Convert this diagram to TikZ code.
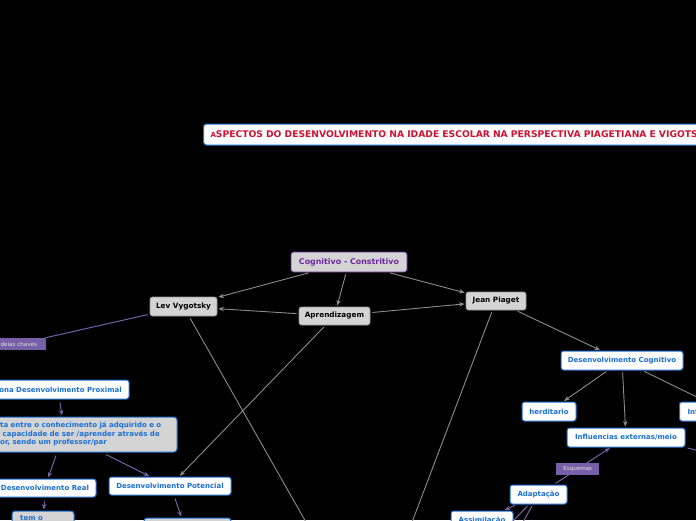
\documentclass[tikz,border=0pt]{standalone}
\usepackage{fontspec}
\setmainfont{DejaVu Sans}
\usetikzlibrary{arrows.meta}
\definecolor{boxgray}{RGB}{212,212,212}
\definecolor{bordgray}{RGB}{150,150,150}
\definecolor{blueb}{RGB}{30,110,205}
\definecolor{bluet}{RGB}{25,110,215}
\definecolor{purp}{RGB}{120,96,168}
\definecolor{purptxt}{RGB}{110,40,160}
\definecolor{linegray}{RGB}{140,140,140}
\definecolor{titlered}{RGB}{205,18,50}
\tikzset{
  boxtext/.style={font=\fontsize{7}{8}\selectfont\bfseries},
  graybox/.style={font=\fontsize{7.3}{8}\selectfont\bfseries, draw=bordgray, fill=boxgray, rounded corners=2.5pt, line width=0.8pt, inner sep=0pt, text=black},
  bluebox/.style={boxtext, draw=blueb, fill=white, rounded corners=2.5pt, line width=1pt, inner sep=0pt, text=bluet},
  bluegray/.style={boxtext, draw=blueb, fill=boxgray, rounded corners=3pt, line width=1pt, inner sep=0pt, text=bluet},
  plabel/.style={font=\fontsize{5.6}{6.5}\selectfont, fill=purp, text=white!88!black, inner sep=0pt, minimum height=12pt},
  garrow/.style={draw=linegray, line width=0.9pt, -{Stealth[length=5.5pt,width=4.5pt]}, shorten <=2pt, shorten >=1pt},
  gline/.style={draw=linegray, line width=0.9pt},
  parrow/.style={draw=purp, line width=1pt, -{Stealth[length=5.5pt,width=4.5pt]}, shorten >=1pt},
  pline/.style={draw=purp, line width=1pt},
}
\begin{document}
\begin{tikzpicture}[x=1pt,y=-1pt]
\useasboundingbox[fill=black] (0,0) rectangle (696,520);

% title
\node[draw=blueb, fill=white, line width=1pt, rounded corners=3pt, anchor=west,
      minimum height=21pt, minimum width=640pt, inner xsep=7pt, text=titlered,
      font=\fontsize{9.2}{10}\selectfont\bfseries, text width=626pt, align=left]
  (title) at (203,134.5) {{\fontsize{7}{7}\selectfont A}SPECTOS DO DESENVOLVIMENTO NA IDADE ESCOLAR NA PERSPECTIVA PIAGETIANA E VIGOTSKIANA};

% main nodes
\node[graybox, font=\fontsize{7.9}{9}\selectfont\bfseries, draw=purptxt, text=purptxt, minimum width=116pt, minimum height=20pt] (cog) at (349,262) {Cognitivo - Constritivo};
\node[graybox, minimum width=67pt, minimum height=19pt] (lev) at (183.5,306.5) {Lev Vygotsky};
\node[graybox, minimum width=71pt, minimum height=18pt] (apr) at (334.5,316) {Aprendizagem};
\node[graybox, minimum width=60pt, minimum height=18pt] (jean) at (496,301) {Jean Piaget};

% Piaget side
\node[bluebox, minimum width=122pt, minimum height=19pt] (dcog) at (622,360.5) {Desenvolvimento Cognitivo};
\node[bluebox, minimum width=54pt, minimum height=19pt] (her) at (549,411.5) {herditario};
\node[bluebox, minimum width=118pt, minimum height=19pt] (infext) at (626,437.5) {Influencias externas/meio};
\node[bluebox, minimum height=19pt, anchor=west, inner xsep=8pt] (infint) at (679,411.5) {Influencias internas};
\node[bluebox, minimum width=57pt, minimum height=19pt] (adap) at (538.5,494.5) {Adaptação};
\node[bluebox, minimum width=62pt, minimum height=19pt] (assim) at (482,520.5) {Assimilação};
\coordinate (acom1) at (490,545);
\coordinate (acom2) at (510,545);

% Vygotsky side
\node[plabel, minimum width=56pt] (ideias) at (18,344) {Ideias chaves};
\node[bluebox, minimum width=142pt, minimum height=19pt] (zona) at (58,389.5) {Zona Desenvolvimento Proximal};
\node[bluegray, minimum width=186pt, minimum height=35pt] (dist) at (84,434.5) {};
\node[text=bluet, anchor=north west, align=left, inner sep=0pt, font=\fontsize{7}{8.2}\selectfont\bfseries] (disttxt) at (0,422) {ta entre o conhecimento já adquirido e o\\ \ capacidade de ser /aprender através de\\or, sendo um professor/par};
\node[bluebox, minimum width=102pt, minimum height=18pt] (dreal) at (45,488) {Desenvolvimento Real};
\node[bluebox, minimum width=122pt, minimum height=18pt] (dpot) at (170,486) {Desenvolvimento Potencial};
\node[bluegray, minimum width=62pt, minimum height=30pt, anchor=north] (temo) at (43,510.5) {};
\node[boxtext, text=bluet, anchor=north west, inner sep=0pt] (temotxt) at (20,515.5) {tem o};
\node[bluegray, minimum width=87pt, minimum height=30pt, anchor=north] (pbox) at (187.5,517.5) {};
\coordinate (levend) at (340,582);
\coordinate (jeanend) at (395,567);

% connectors gray
\draw[garrow] (cog) -- (lev);
\draw[garrow] (cog) -- (apr);
\draw[garrow] (cog) -- (jean);
\draw[garrow] (apr) -- (lev);
\draw[garrow] (apr) -- (jean);
\draw[garrow] (apr) -- (dpot);
\draw[gline, shorten <=2pt] (lev) -- (levend);
\draw[gline, shorten <=2pt] (jean) -- (jeanend);
\draw[garrow] (jean) -- (dcog);
\draw[garrow] (dcog) -- (her);
\draw[garrow] (dcog) -- (infext);
\draw[gline, shorten <=2pt] (dcog) -- (infint);

% connectors purple
\draw[pline, shorten <=2pt] (lev) -- (ideias);
\draw[parrow] ([xshift=2pt,yshift=-3pt]zona.south) -- ([xshift=-22pt]dist.north);
\draw[parrow] ([xshift=-28pt,yshift=-3pt]dist.south) -- ([xshift=3pt]dreal.north);
\draw[parrow] ([xshift=22pt,yshift=-2pt]dist.south) -- ([xshift=-20pt]dpot.north);
\draw[parrow] ([xshift=-1pt,yshift=-3pt]dreal.south) -- ([xshift=1pt]temo.north);
\draw[parrow] ([xshift=5pt,yshift=-3pt]dpot.south) -- ([xshift=-6pt]pbox.north);
\draw[parrow, shorten <=2pt] (adap) -- node[plabel, minimum width=43pt, pos=0.42] (esq) {Esquemas} (infext);
\draw[parrow, shorten <=2pt] (adap) -- (assim);
\draw[pline, shorten <=2pt] (adap) -- (acom1);
\draw[pline, shorten <=2pt] (adap) -- (acom2);
\draw[pline, shorten <=2pt] (infext.south east) -- ++(12,3);
\end{tikzpicture}
\end{document}
